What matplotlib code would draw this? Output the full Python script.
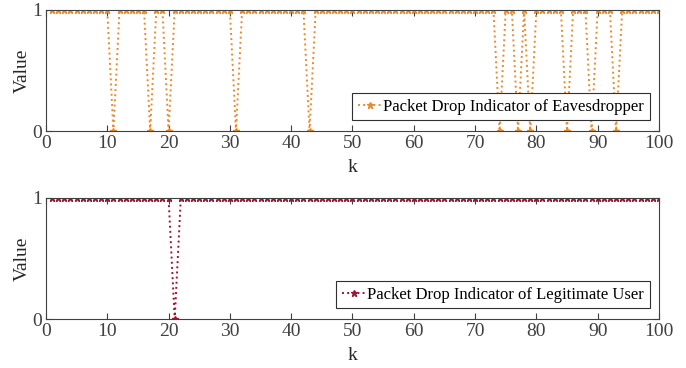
import numpy as np
import matplotlib.pyplot as plt

plt.rcParams['font.family'] = ['Liberation Serif', 'DejaVu Serif']

k = np.arange(1, 101)
eve_drops = [11, 17, 20, 31, 43, 74, 77, 79, 85, 89, 93]
user_drops = [21]

eve = np.ones(len(k))
eve[np.isin(k, eve_drops)] = 0
user = np.ones(len(k))
user[np.isin(k, user_drops)] = 0

orange = '#EB8A2C'
red = '#A2142F'

fig = plt.figure(figsize=(6.86, 3.68), dpi=100)
ax1 = fig.add_axes([0.067, 0.644, 0.8936, 0.329])
ax2 = fig.add_axes([0.067, 0.133, 0.8936, 0.329])

for ax, y, c, lab in [(ax1, eve, orange, 'Packet Drop Indicator of Eavesdropper'),
                      (ax2, user, red, 'Packet Drop Indicator of Legitimate User')]:
    ax.plot(k, y, linestyle=':', color=c, marker='*', markersize=4.5, linewidth=1.4, label=lab)
    ax.set_xlim(0, 100)
    ax.set_ylim(0, 1)
    ax.set_xticks(np.arange(0, 101, 10))
    ax.set_yticks([0, 1])
    ax.tick_params(direction='in', top=True, right=True, labelsize=14, colors='#404040',
                   length=4, pad=3)
    for s in ax.spines.values():
        s.set_color('#404040')
        s.set_linewidth(0.8)
    ax.set_xlabel('k', fontsize=14, labelpad=5, color='#262626')
    ax.set_ylabel('Value', fontsize=14, labelpad=1, color='#262626')
    leg = ax.legend(loc='lower right', bbox_to_anchor=(0.99, 0.06), fontsize=12, fancybox=False,
                    edgecolor='#303030', framealpha=1, handlelength=1.4, handletextpad=0.1,
                    borderpad=0.35, borderaxespad=0.2)
    leg.get_frame().set_linewidth(0.8)

fig.savefig('out.png', dpi=100)
